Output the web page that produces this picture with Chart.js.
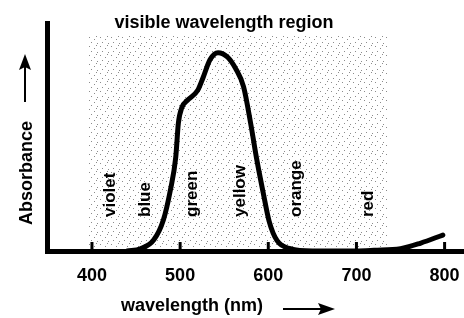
<!DOCTYPE html>
<html>
<head>
<meta charset="utf-8">
<script src="https://cdn.jsdelivr.net/npm/chart.js@4"></script>
<style>
  html, body { margin: 0; padding: 0; background: #fff; }
  #wrap { width: 464px; height: 318px; }
</style>
</head>
<body>
<div id="wrap"><canvas id="spectrum"></canvas></div>
<script>
// absorption curve
var wavelengths = [440, 455, 470, 481, 489, 495, 498, 502, 508, 520, 526, 534, 543, 554, 563, 572, 580, 587, 594, 601, 610, 625, 650, 700, 720, 750, 773, 798];
var absorbance = [0, 0.01, 0.048, 0.136, 0.268, 0.41, 0.56, 0.63, 0.66, 0.705, 0.76, 0.84, 0.87, 0.85, 0.80, 0.72, 0.56, 0.40, 0.26, 0.13, 0.045, 0.01, 0, 0, 0.003, 0.01, 0.035, 0.07];

// x axis ticks
var tickValues = [400, 500, 600, 700, 800];

// colour band names and where they sit (nm)
var bandNames = ["violet", "blue", "green", "yellow", "orange", "red"];
var bandCenters = [421, 460, 514, 568, 632, 713];

// shaded visible region (nm)
var visibleRange = [396, 735];

var FONT = "'Liberation Sans', Arial, sans-serif";

function stipple(ctx) {
    var c = document.createElement('canvas');
    c.width = 11; c.height = 9;
    var g = c.getContext('2d');
    g.fillStyle = 'rgba(0,0,0,0.45)';
    [[1, 1], [6, 3], [3, 6], [9, 7], [8, 0]].forEach(function (p) { g.fillRect(p[0], p[1], 1, 1); });
    return ctx.createPattern(c, 'repeat');
}

var decorations = {
    id: 'decorations',
    beforeDatasetsDraw: function (chart) {
        var ctx = chart.ctx, xs = chart.scales.x, area = chart.chartArea;
        var x0 = xs.getPixelForValue(visibleRange[0]);
        var x1 = xs.getPixelForValue(visibleRange[1]);
        ctx.save();
        ctx.fillStyle = stipple(ctx);
        ctx.fillRect(x0, 36, x1 - x0, area.bottom - 36);
        ctx.restore();

        // band names
        ctx.save();
        ctx.fillStyle = '#000';
        ctx.font = 'bold 17px ' + FONT;
        ctx.textBaseline = 'middle';
        ctx.textAlign = 'left';
        bandNames.forEach(function (name, i) {
            var x = xs.getPixelForValue(bandCenters[i]);
            ctx.save();
            ctx.translate(x, 217);
            ctx.rotate(-Math.PI / 2);
            ctx.fillText(name, 0, 0);
            ctx.restore();
        });
        ctx.restore();
    },
    afterDraw: function (chart) {
        var ctx = chart.ctx, xs = chart.scales.x, area = chart.chartArea;
        ctx.save();
        ctx.fillStyle = '#000';
        ctx.strokeStyle = '#000';

        // inward tick marks
        ctx.lineWidth = 3;
        tickValues.forEach(function (v) {
            var x = xs.getPixelForValue(v);
            ctx.beginPath();
            ctx.moveTo(x, area.bottom);
            ctx.lineTo(x, area.bottom - 9);
            ctx.stroke();
        });

        // title
        ctx.font = 'bold 18px ' + FONT;
        ctx.textAlign = 'center';
        ctx.textBaseline = 'middle';
        ctx.fillText('visible wavelength region', 224, 23);

        // x axis label + arrow
        ctx.fillText('wavelength (nm)', 192, 306);
        ctx.lineWidth = 2;
        ctx.beginPath();
        ctx.moveTo(283, 309);
        ctx.lineTo(322, 309);
        ctx.stroke();
        ctx.beginPath();
        ctx.moveTo(335, 309);
        ctx.lineTo(318, 303);
        ctx.lineTo(321, 309);
        ctx.lineTo(318, 315);
        ctx.closePath();
        ctx.fill();

        // y axis label + arrow
        ctx.save();
        ctx.translate(27, 173);
        ctx.rotate(-Math.PI / 2);
        ctx.fillText('Absorbance', 0, 0);
        ctx.restore();
        ctx.beginPath();
        ctx.moveTo(25, 102);
        ctx.lineTo(25, 66);
        ctx.stroke();
        ctx.beginPath();
        ctx.moveTo(25, 54);
        ctx.lineTo(19, 70);
        ctx.lineTo(25, 67);
        ctx.lineTo(31, 70);
        ctx.closePath();
        ctx.fill();
        ctx.restore();
    }
};

var ctx = document.getElementById('spectrum').getContext('2d');
var chart = new Chart(ctx, {
    type: 'line',
    data: {
        datasets: [{
            label: 'Absorbance',
            data: wavelengths.map(function (w, i) { return { x: w, y: absorbance[i] }; }),
            borderColor: '#000',
            borderWidth: 5,
            borderCapStyle: 'round',
            borderJoinStyle: 'round',
            pointRadius: 0,
            cubicInterpolationMode: 'monotone',
            fill: false
        }]
    },
    options: {
        responsive: true,
        maintainAspectRatio: false,
        animation: false,
        layout: { padding: { top: 23, right: 0, left: 0, bottom: 0 } },
        plugins: {
            legend: { display: false },
            tooltip: { enabled: false },
            title: { display: false }
        },
        scales: {
            x: {
                type: 'linear',
                min: 349,
                max: 822,
                afterBuildTicks: function (scale) {
                    scale.ticks = tickValues.map(function (v) { return { value: v }; });
                },
                afterFit: function (scale) {
                    scale.height = 67;
                    scale.paddingLeft = 0;
                    scale.paddingRight = 0;
                },
                grid: { display: false, drawTicks: false },
                border: { display: true, color: '#000', width: 5 },
                ticks: {
                    color: '#000',
                    padding: 14,
                    maxRotation: 0,
                    font: { family: FONT, size: 18, weight: 'bold' }
                }
            },
            y: {
                min: 0,
                max: 1,
                afterFit: function (scale) {
                    scale.width = 47;
                    scale.paddingTop = 0;
                    scale.paddingBottom = 0;
                },
                grid: { display: false, drawTicks: false },
                border: { display: true, color: '#000', width: 5 },
                ticks: { display: false }
            }
        }
    },
    plugins: [decorations]
});
</script>
</body>
</html>
